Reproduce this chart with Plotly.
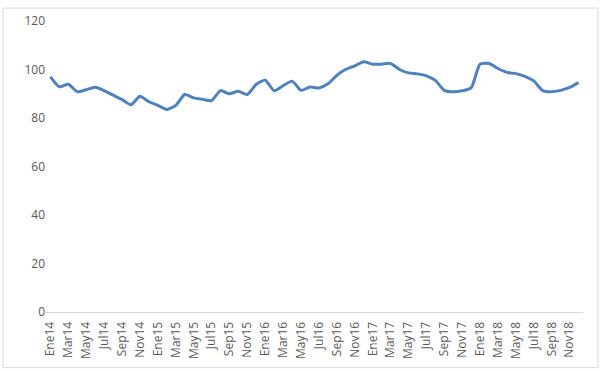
import plotly.graph_objects as go

months = ["Ene", "Feb", "Mar", "Abr", "May", "Jun", "Jul", "Ago", "Sep", "Oct", "Nov", "Dic"]
years = ["14", "15", "16", "17", "18"]
categories = [m + y for y in years for m in months]

values = [
    97.0, 92.9, 93.9, 90.8, 91.7, 92.7, 91.3, 89.4, 87.6, 85.5, 89.0, 86.7,
    85.2, 83.5, 85.2, 89.7, 88.3, 87.7, 87.2, 91.3, 90.0, 91.0, 89.7, 93.9,
    95.6, 91.2, 93.3, 95.2, 91.4, 92.8, 92.4, 94.1, 97.6, 100.1, 101.5, 103.2,
    102.2, 102.2, 102.5, 100.0, 98.6, 98.2, 97.4, 95.5, 91.4, 90.8, 91.2, 92.4,
    102.2, 102.5, 100.4, 98.8, 98.3, 97.2, 95.3, 91.3, 90.8, 91.4, 92.6, 94.6,
]

tick_labels = categories[::2]
y_ticks = [0, 20, 40, 60, 80, 100, 120]

fig = go.Figure()
fig.add_trace(go.Scatter(
    x=categories, y=values, mode="lines",
    line=dict(color="#4F81BD", width=3, shape="spline", smoothing=0.6),
    showlegend=False, hoverinfo="x+y",
))

fig.update_layout(
    width=603, height=371,
    margin=dict(l=46, r=20, t=20, b=58),
    paper_bgcolor="white", plot_bgcolor="white",
    font=dict(family="Open Sans, Liberation Sans, sans-serif", size=12, color="#595959"),
    xaxis=dict(
        type="category", categoryorder="array", categoryarray=categories,
        range=[-0.5, len(categories) - 0.5],
        tickmode="array", tickvals=tick_labels, ticktext=tick_labels,
        tickangle=-90, showgrid=False, showline=True, linecolor="#d9d9d9",
        linewidth=1, ticks="", zeroline=False, ticklabelstandoff=4,
        tickfont=dict(size=12, color="#595959"),
    ),
    yaxis=dict(
        range=[0, 120], tickmode="array", tickvals=y_ticks,
        showgrid=False, zeroline=False, showline=False, ticks="",
        tickfont=dict(size=12, color="#595959"),
    ),
    shapes=[dict(
        type="rect", xref="paper", yref="paper",
        x0=(3 - 46) / 537, x1=(598 - 46) / 537,
        y0=-(369 - 313) / 293, y1=1 + (20 - 7) / 293,
        line=dict(color="#d9d9d9", width=1), fillcolor="rgba(0,0,0,0)",
        layer="below",
    )],
)

fig.write_html("out.html")
